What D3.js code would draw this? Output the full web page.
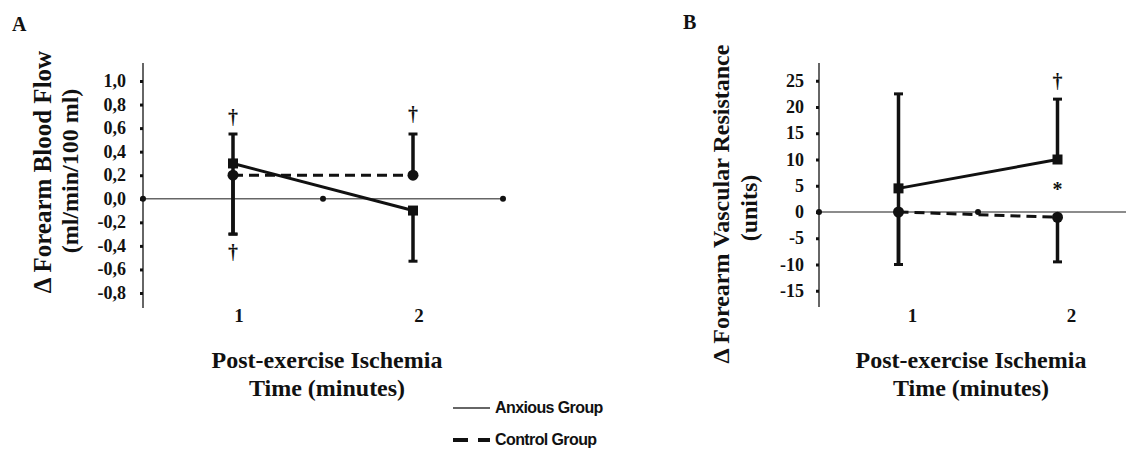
<!DOCTYPE html>
<html>
<head>
<meta charset="utf-8">
<title>Forearm blood flow and vascular resistance</title>
<script src="https://cdn.jsdelivr.net/npm/d3@7"></script>
<style>
  body { margin: 0; background: #fff; }
  text { font-family: "Liberation Serif", "Times New Roman", serif; font-weight: bold; fill: #111; }
  .legend text { font-family: "Liberation Sans", Arial, sans-serif; font-size: 16px; letter-spacing: -0.6px; }
</style>
</head>
<body>
<svg width="1126" height="450"></svg>
<script>
// categories
var times = [1, 2];

// panel A: change in forearm blood flow (ml/min/100 ml)
var flowTicks = [1.0, 0.8, 0.6, 0.4, 0.2, 0.0, -0.2, -0.4, -0.6, -0.8];
var flowAnxious = [0.3, -0.1];
var flowControl = [0.2, 0.2];
var flowAnxiousHi = [0.55, -0.1];
var flowAnxiousLo = [-0.3, -0.53];
var flowControlHi = [0.2, 0.55];
var flowControlLo = [-0.3, 0.2];
var flowMarks = [{t: 1, v: 0.69, s: "†"}, {t: 1, v: -0.46, s: "†"}, {t: 2, v: 0.71, s: "†"}];

// panel B: change in forearm vascular resistance (units)
var vrTicks = [25, 20, 15, 10, 5, 0, -5, -10, -15];
var vrAnxious = [4.5, 10];
var vrControl = [0, -1];
var vrAnxiousHi = [22.5, 21.5];
var vrAnxiousLo = [-10, 10];
var vrControlHi = [0, -1];
var vrControlLo = [-10, -9.5];
var vrMarks = [{t: 2, v: 24.8, s: "†"}, {t: 2, v: 5.3, s: "*"}];

var svg = d3.select("svg");
var fmtComma = d3.formatLocale({decimal: ",", thousands: ".", grouping: [3], currency: ["", ""], minus: "-"}).format(".1f");
var fmtInt = d3.formatLocale({decimal: ".", thousands: ",", grouping: [3], currency: ["", ""], minus: "-"}).format("d");

function panel(o) {
  var g = svg.append("g");
  var x = d3.scaleBand().domain(times).range(o.xr).paddingInner(0).paddingOuter(0);
  var y = d3.scaleLinear().domain(o.yd).range(o.yr);
  var cx = function(t) { return x(t) + x.bandwidth() / 2; };

  // y axis line and tick marks
  g.append("line").attr("x1", o.xr[0]).attr("x2", o.xr[0]).attr("y1", o.axTop).attr("y2", o.axBot)
    .attr("stroke", "#333").attr("stroke-width", 1.5);
  var ax = g.append("g").attr("transform", "translate(" + o.xr[0] + ",0)")
    .call(d3.axisLeft(y).tickValues(o.ticks).tickSize(3).tickFormat(""));
  ax.select(".domain").remove();
  ax.selectAll(".tick line").attr("stroke", "#111").attr("stroke-width", 3);

  // tick labels
  g.selectAll(".ylbl").data(o.ticks).enter().append("text")
    .attr("x", o.xr[0] - o.tickPad).attr("y", function(d) { return y(d) + 6; })
    .attr("text-anchor", "end").style("font-size", o.tickFont + "px")
    .text(o.fmt);

  // zero line with category boundary dots
  var y0 = y(0);
  g.append("line").attr("x1", o.xr[0]).attr("x2", o.zeroEnd).attr("y1", y0).attr("y2", y0)
    .attr("stroke", "#666").attr("stroke-width", 1.5);
  var bounds = [o.xr[0]].concat(times.map(function(t) { return x(t) + x.bandwidth(); }));
  g.selectAll(".bdot").data(bounds).enter().append("circle")
    .attr("cx", function(d) { return d; }).attr("cy", y0).attr("r", 3).attr("fill", "#111");

  // category labels
  g.selectAll(".cat").data(times).enter().append("text")
    .attr("x", function(d) { return cx(d) + o.catShift; }).attr("y", 322)
    .attr("text-anchor", "middle").style("font-size", "19px").text(function(d) { return d; });

  // error bars
  function errBars(hi, lo, vals) {
    times.forEach(function(t, i) {
      g.append("line").attr("x1", cx(t)).attr("x2", cx(t)).attr("y1", y(hi[i])).attr("y2", y(lo[i]))
        .attr("stroke", "#111").attr("stroke-width", 3.5);
      [hi[i], lo[i]].forEach(function(e) {
        if (e !== vals[i]) {
          g.append("line").attr("x1", cx(t) - 4.5).attr("x2", cx(t) + 4.5).attr("y1", y(e)).attr("y2", y(e))
            .attr("stroke", "#111").attr("stroke-width", 3);
        }
      });
    });
  }
  errBars(o.aHi, o.aLo, o.anx);
  errBars(o.cHi, o.cLo, o.ctl);

  var line = d3.line().x(function(d, i) { return cx(times[i]); }).y(function(d) { return y(d); });
  g.append("path").datum(o.ctl).attr("d", line).attr("fill", "none")
    .attr("stroke", "#111").attr("stroke-width", 3).attr("stroke-dasharray", "10,6");
  g.append("path").datum(o.anx).attr("d", line).attr("fill", "none")
    .attr("stroke", "#111").attr("stroke-width", 3);

  g.selectAll(".sq").data(o.anx).enter().append("rect")
    .attr("x", function(d, i) { return cx(times[i]) - 5; }).attr("y", function(d) { return y(d) - 5; })
    .attr("width", 10).attr("height", 10).attr("fill", "#111");
  g.selectAll(".ci").data(o.ctl).enter().append("circle")
    .attr("cx", function(d, i) { return cx(times[i]); }).attr("cy", function(d) { return y(d); })
    .attr("r", 5.5).attr("fill", "#111");

  // significance marks
  g.selectAll(".mk").data(o.marks).enter().append("text")
    .attr("x", function(d) { return cx(d.t); })
    .attr("y", function(d) { return y(d.v) + (d.s === "*" ? 12 : 6); })
    .attr("text-anchor", "middle").style("font-size", "20px").text(function(d) { return d.s; });

  // titles
  var tx = o.titleX;
  g.append("text").attr("x", tx).attr("y", 368).attr("text-anchor", "middle").style("font-size", "24px").text("Post-exercise Ischemia");
  g.append("text").attr("x", tx).attr("y", 396).attr("text-anchor", "middle").style("font-size", "24px").text("Time (minutes)");

  o.ylab.forEach(function(l) {
    g.append("text").attr("transform", "translate(" + l.x + "," + l.y + ") rotate(-90)")
      .attr("text-anchor", "middle").style("font-size", l.f + "px").text(l.s);
  });
  g.append("text").attr("x", o.letter[0]).attr("y", o.letter[1]).style("font-size", "20px").text(o.letter[2]);
}

panel({
  xr: [143, 503], yd: [-0.8, 1.0], yr: [293, 81], axTop: 63, axBot: 308, zeroEnd: 503,
  ticks: flowTicks, fmt: fmtComma, tickPad: 17, tickFont: 18, catShift: 6, titleX: 327,
  anx: flowAnxious, ctl: flowControl, aHi: flowAnxiousHi, aLo: flowAnxiousLo, cHi: flowControlHi, cLo: flowControlLo,
  marks: flowMarks,
  ylab: [{x: 51, y: 172, f: 25, s: "Δ Forearm Blood Flow"}, {x: 78, y: 171, f: 24, s: "(ml/min/100 ml)"}],
  letter: [12, 31, "A"]
});

panel({
  xr: [819, 1137], yd: [-15, 25], yr: [290.75, 80.75], axTop: 63, axBot: 307, zeroEnd: 1126,
  ticks: vrTicks, fmt: fmtInt, tickPad: 15, tickFont: 18, catShift: 14, titleX: 971,
  anx: vrAnxious, ctl: vrControl, aHi: vrAnxiousHi, aLo: vrAnxiousLo, cHi: vrControlHi, cLo: vrControlLo,
  marks: vrMarks,
  ylab: [{x: 729, y: 204, f: 24, s: "Δ Forearm Vascular Resistance"}, {x: 757, y: 208, f: 24, s: "(units)"}],
  letter: [683, 29, "B"]
});

// legend
var legend = svg.append("g").attr("class", "legend");
legend.append("line").attr("x1", 453).attr("x2", 490).attr("y1", 408).attr("y2", 408)
  .attr("stroke", "#333").attr("stroke-width", 1.5);
legend.append("line").attr("x1", 453).attr("x2", 490).attr("y1", 440).attr("y2", 440)
  .attr("stroke", "#111").attr("stroke-width", 4).attr("stroke-dasharray", "15,10");
legend.append("text").attr("x", 495).attr("y", 413).text("Anxious Group");
legend.append("text").attr("x", 495).attr("y", 445).text("Control Group");
</script>
</body>
</html>
